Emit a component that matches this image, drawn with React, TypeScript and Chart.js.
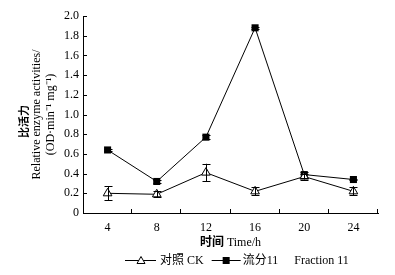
import React, { useEffect, useRef } from "react";
import { Chart, registerables } from "chart.js";

Chart.register(...registerables);

const categories = ["4", "8", "12", "16", "20", "24"];
const ckValues = [0.2, 0.19, 0.41, 0.22, 0.37, 0.22];
const ckErrors = [0.07, 0.03, 0.09, 0.04, 0.03, 0.04];
const fracValues = [0.64, 0.32, 0.77, 1.88, 0.39, 0.34];
const fracErrors = [0.01, 0.02, 0.02, 0.01, 0.03, 0.01];
const yTicks = [0, 0.2, 0.4, 0.6, 0.8, 1.0, 1.2, 1.4, 1.6, 1.8, 2.0];
const seriesNames = ["对照 CK", "流分11", "Fraction 11"];
const yTitle = ["比活力", "Relative enzyme activities/", "(OD·min⁻¹ mg⁻¹)"];
const xTitleCn = "时间";
const xTitleEn = " Time/h";

const FONT = "'Liberation Serif', 'Noto Sans CJK SC', serif";

const decor = {
  id: "decor",
  afterDatasetsDraw(chart: any) {
    const ctx = chart.ctx;
    const xs = chart.scales.x;
    const ys = chart.scales.y;
    const sets = [
      [ckValues, ckErrors],
      [fracValues, fracErrors],
    ];
    ctx.save();
    ctx.strokeStyle = "#000";
    ctx.lineWidth = 1;
    sets.forEach(([vals, errs]) => {
      vals.forEach((v: number, i: number) => {
        const x = Math.round(xs.getPixelForValue(i)) + 0.5;
        const yt = ys.getPixelForValue(v + errs[i]);
        const yb = ys.getPixelForValue(v - errs[i]);
        ctx.beginPath();
        ctx.moveTo(x, yt);
        ctx.lineTo(x, yb);
        ctx.moveTo(x - 4, Math.round(yt) + 0.5);
        ctx.lineTo(x + 4, Math.round(yt) + 0.5);
        ctx.moveTo(x - 4, Math.round(yb) + 0.5);
        ctx.lineTo(x + 4, Math.round(yb) + 0.5);
        ctx.stroke();
      });
    });
    ctx.restore();
  },
  afterDraw(chart: any) {
    const ctx = chart.ctx;
    const ys = chart.scales.y;
    const area = chart.chartArea;
    ctx.save();
    ctx.strokeStyle = "#000";
    ctx.lineWidth = 1;
    ctx.beginPath();
    yTicks.forEach((t) => {
      const y = Math.round(ys.getPixelForValue(t)) + 0.5;
      ctx.moveTo(area.left, y);
      ctx.lineTo(area.left + 4, y);
    });
    const n = categories.length;
    for (let i = 1; i <= n; i++) {
      const x = Math.round(area.left + (i * (area.right - area.left)) / n) - 0.5;
      ctx.moveTo(x, area.bottom);
      ctx.lineTo(x, area.bottom - 4);
    }
    ctx.stroke();
    ctx.fillStyle = "#000";
    ctx.textBaseline = "middle";

    // y title (three rotated lines)
    const yc = (area.top + area.bottom) / 2;
    const lineX = [area.left - 58, area.left - 46, area.left - 32];
    const lineFonts = ["bold 11px " + FONT, "12px " + FONT, "12px " + FONT];
    const lineCenters = [yc + 7, yc, yc];
    yTitle.forEach((t, i) => {
      ctx.save();
      ctx.translate(lineX[i], lineCenters[i]);
      ctx.rotate(-Math.PI / 2);
      ctx.font = lineFonts[i];
      ctx.textAlign = "center";
      ctx.fillText(t, 0, 0);
      ctx.restore();
    });

    // x title
    const xc = (area.left + area.right) / 2;
    const xty = area.bottom + 29.5;
    ctx.font = "bold 12px " + FONT;
    const w1 = ctx.measureText(xTitleCn).width;
    ctx.font = "12px " + FONT;
    const w2 = ctx.measureText(xTitleEn).width;
    let sx = xc - (w1 + w2) / 2;
    ctx.textAlign = "left";
    ctx.font = "bold 12px " + FONT;
    ctx.fillText(xTitleCn, sx, xty);
    ctx.font = "12px " + FONT;
    ctx.fillText(xTitleEn, sx + w1, xty);

    // legend
    const ly = 260.5;
    let lx = area.left + 42;
    ctx.font = "12px " + FONT;
    // item 1
    ctx.beginPath();
    ctx.moveTo(lx, ly);
    ctx.lineTo(lx + 31, ly);
    ctx.stroke();
    const tx = lx + 16;
    ctx.beginPath();
    ctx.moveTo(tx, ly - 4);
    ctx.lineTo(tx + 4, ly + 3);
    ctx.lineTo(tx - 4, ly + 3);
    ctx.closePath();
    ctx.fillStyle = "#fff";
    ctx.fill();
    ctx.stroke();
    ctx.fillStyle = "#000";
    lx += 35;
    ctx.fillText(seriesNames[0], lx, ly);
    lx += ctx.measureText(seriesNames[0]).width + 8;
    // item 2
    ctx.beginPath();
    ctx.moveTo(lx, ly);
    ctx.lineTo(lx + 29, ly);
    ctx.stroke();
    ctx.fillRect(lx + 11, ly - 3.5, 7, 7);
    lx += 31;
    ctx.fillText(seriesNames[1], lx, ly);
    lx += ctx.measureText(seriesNames[1]).width + 16;
    ctx.fillText(seriesNames[2], lx, ly);
    ctx.restore();
  },
};

export default function App() {
  const ref = useRef<HTMLCanvasElement>(null);
  useEffect(() => {
    document.body.style.margin = "0";
    const chart = new Chart(ref.current as HTMLCanvasElement, {
      type: "line",
      data: {
        labels: categories,
        datasets: [
          {
            label: seriesNames[0],
            data: ckValues,
            borderColor: "#000",
            borderWidth: 1,
            pointStyle: "triangle",
            pointRadius: 5,
            pointBackgroundColor: "#fff",
            pointBorderColor: "#000",
            pointBorderWidth: 1,
            tension: 0,
          },
          {
            label: seriesNames[1] + " " + seriesNames[2],
            data: fracValues,
            borderColor: "#000",
            borderWidth: 1,
            pointStyle: "rect",
            pointRadius: 5,
            pointBackgroundColor: "#000",
            pointBorderColor: "#000",
            pointBorderWidth: 0,
            tension: 0,
          },
        ],
      },
      options: {
        animation: false,
        responsive: false,
        layout: { padding: { top: 16, right: 17, left: 0, bottom: 0 } },
        plugins: { legend: { display: false }, tooltip: { enabled: false } },
        scales: {
          x: {
            type: "category",
            offset: true,
            grid: { display: false, drawTicks: false },
            border: { display: true, color: "#000", width: 1 },
            ticks: { color: "#000", font: { family: FONT, size: 12 }, padding: 8 },
            afterFit(scale: any) {
              scale.height = 62;
            },
          },
          y: {
            min: 0,
            max: 2,
            grid: { display: false, drawTicks: false },
            border: { display: true, color: "#000", width: 1 },
            afterBuildTicks(scale: any) {
              scale.ticks = yTicks.map((v) => ({ value: v }));
            },
            ticks: {
              color: "#000",
              font: { family: FONT, size: 12 },
              padding: 4,
              callback: (v: any) => (Number(v) === 0 ? "0" : Number(v).toFixed(1)),
            },
            afterFit(scale: any) {
              scale.width = 83;
            },
          },
        },
      },
      plugins: [decor],
    });
    return () => chart.destroy();
  }, []);
  return (
    <div style={{ position: "absolute", left: 0, top: 0, width: 395, height: 275, background: "#fff" }}>
      <canvas ref={ref} width={395} height={275} style={{ width: 395, height: 275 }} />
    </div>
  );
}
